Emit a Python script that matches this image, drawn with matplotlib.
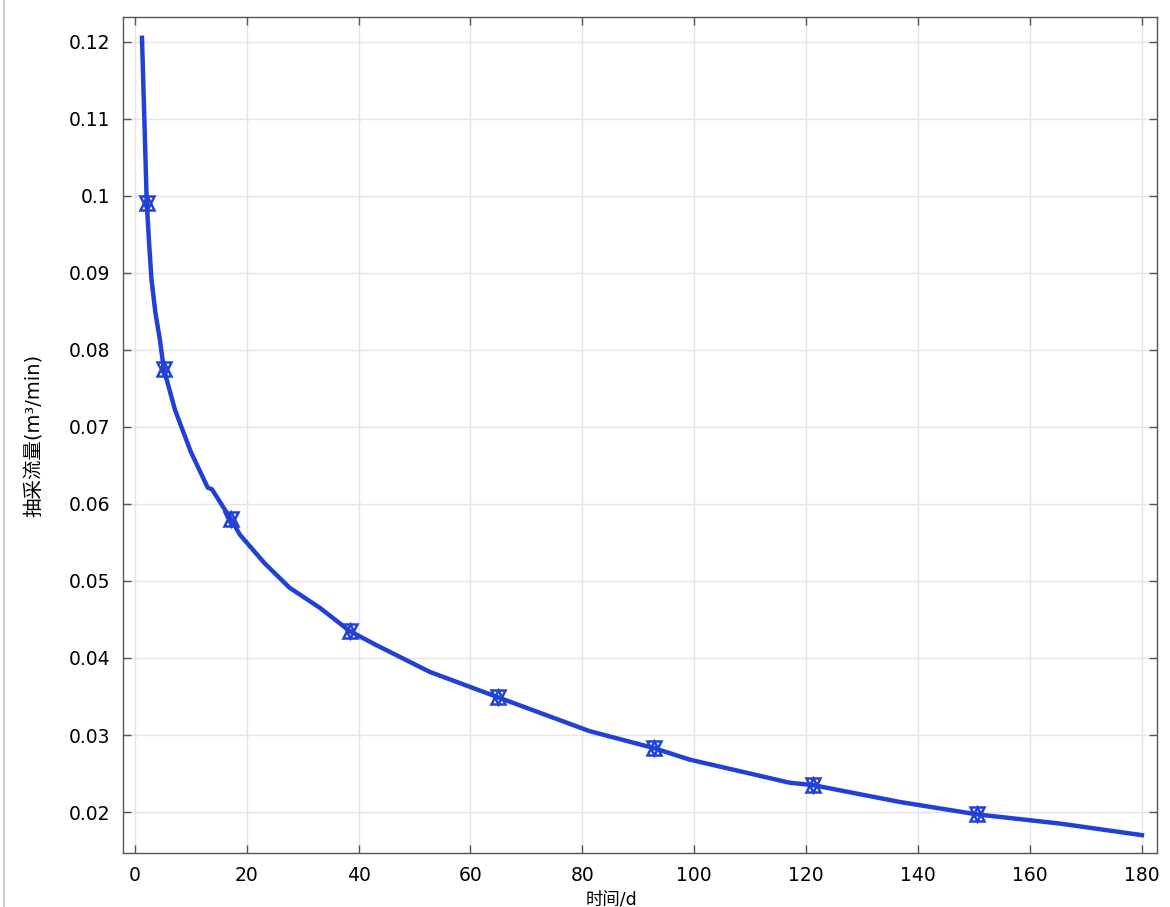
import matplotlib.pyplot as plt
from matplotlib.lines import Line2D

plt.rcParams["font.family"] = ["DejaVu Sans", "Noto Sans CJK SC"]

# curve (time in days, flow in m3/min)
days = [1.3, 2.15, 2.6, 3.0, 3.7, 4.5, 5.2, 7.2, 10.0, 13.05, 13.8, 17.2, 18.8,
        23.2, 27.7, 33.1, 38.4, 43.1, 52.7, 64.9, 81.3, 92.8, 99.2, 117.1,
        121.2, 136.8, 150.5, 165.4, 180.0]
flow = [0.1205, 0.0991, 0.0935, 0.0891, 0.0848, 0.0813, 0.0775, 0.0722, 0.0668,
        0.0621, 0.0619, 0.0580, 0.0560, 0.0523, 0.0491, 0.0465, 0.0435, 0.0417,
        0.0382, 0.0349, 0.0305, 0.0283, 0.0268, 0.0238, 0.0235, 0.0213, 0.0197,
        0.0185, 0.0170]

# marker positions
mark_days = [2.15, 5.2, 17.2, 38.4, 64.9, 92.8, 121.2, 150.5]
mark_flow = [0.0991, 0.0775, 0.0580, 0.0435, 0.0349, 0.0283, 0.0235, 0.0197]

xticks = list(range(0, 181, 20))
yticks = [0.02, 0.03, 0.04, 0.05, 0.06, 0.07, 0.08, 0.09, 0.1, 0.11, 0.12]
ytick_labels = ["0.02", "0.03", "0.04", "0.05", "0.06", "0.07", "0.08", "0.09",
                "0.1", "0.11", "0.12"]

blue = "#2141d6"

fig = plt.figure(figsize=(11.7, 9.07), dpi=100)
ax = fig.add_axes([0.1051, 0.0595, 0.8838, 0.9218])

ax.plot(days, flow, color=blue, lw=3.2, solid_joinstyle="round", zorder=3)
for m in ["^", "v"]:
    ax.plot(mark_days, mark_flow, ls="none", marker=m, ms=10, mfc="none",
            mec=blue, mew=1.8, zorder=4)

ax.set_xlim(-2.1, 182.7)
ax.set_ylim(0.01468, 0.1232)
ax.set_xticks(xticks)
ax.set_yticks(yticks)
ax.set_yticklabels(ytick_labels)

ax.grid(True, color="#e4e4e4", lw=1)
ax.set_axisbelow(True)
ax.tick_params(direction="in", length=6, width=1, color="#555555",
               top=True, right=True, labelsize=13.5, pad=9)
for s in ax.spines.values():
    s.set_color("#555555")
    s.set_linewidth(1)

ax.set_xlabel("时间/d", fontsize=12.5)
ax.xaxis.set_label_coords(0.472, -0.045)
ax.set_ylabel("抽采流量(m³/min)", fontsize=14)
ax.yaxis.set_label_coords(-0.076, 0.5)

# thin frame line at the left edge of the picture
fig.add_artist(Line2D([0.003, 0.003], [0, 1], color="#cccccc", lw=1.5))

fig.savefig("out.png", dpi=100)
